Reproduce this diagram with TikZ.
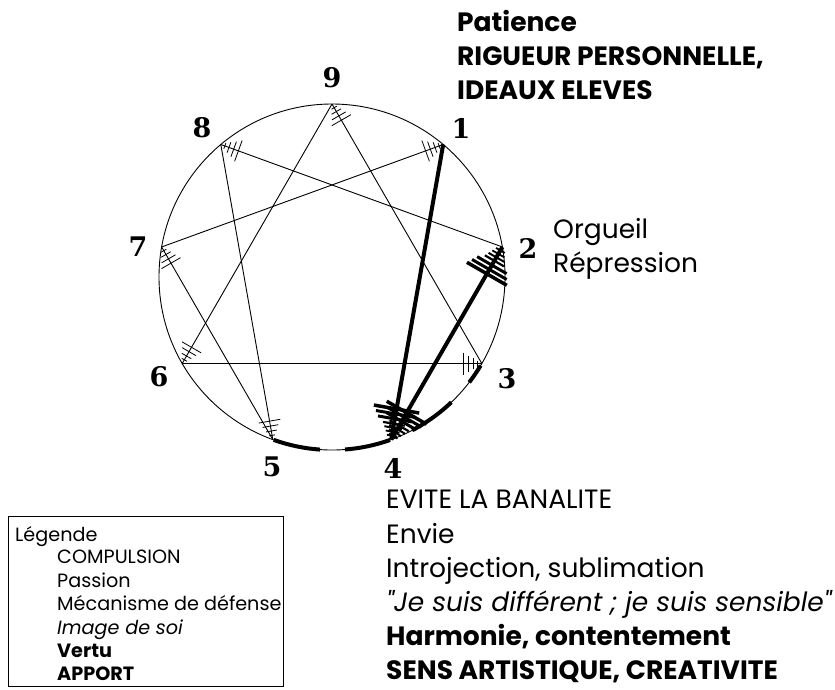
\documentclass[tikz,border=0pt]{standalone}
\usepackage{fontspec}
\setmainfont{Poppins}
\newfontfamily\numfont{DejaVu Serif}
\usetikzlibrary{calc}

\tikzset{
  thinline/.style={line width=0.9pt},
  thickline/.style={line width=4pt},
  arcpiece/.style={line width=4pt},
  numlabel/.style={inner sep=0pt, font=\numfont\bfseries\fontsize{27}{27}\selectfont},
  txt/.style={anchor=base west, inner sep=0pt, font=\fontsize{26.5}{26.5}\selectfont},
  legtxt/.style={anchor=base west, inner sep=0pt, font=\fontsize{19.2}{19.2}\selectfont}
}

% ticks at the end #2 of a line coming from #1
\newcommand{\thinticks}[2]{%
  \foreach \d/\h in {18.7/11,13.7/8,8.7/5.5,4.3/3} {
    \coordinate (tk) at ($(#2)!\d pt!(#1)$);
    \draw[line width=0.8pt] ($(tk)!\h pt!90:(#2)$) -- ($(tk)!\h pt!-90:(#2)$);
  }}
\newcommand{\thickticks}[2]{%
  \foreach \d/\h/\w in {31/23/3.5,26/20/3,21/17/3,16/11/2.2,12/9/2,8/7/1.8,4/5/1.8} {
    \coordinate (tk) at ($(#2)!\d pt!(#1)$);
    \draw[line width=\w pt] ($(tk)!\h pt!90:(#2)$) -- ($(tk)!\h pt!-90:(#2)$);
  }}

\begin{document}
\begin{tikzpicture}[x=1pt,y=-1pt]
  \useasboundingbox (0,0) rectangle (835,689);

  % centre and points of the circle
  \coordinate (c) at (332,277);
  \foreach \n/\a in {9/90,1/50,2/10,3/-30,4/-70,5/-110,6/-150,7/170,8/130}
    \coordinate (p\n) at ($(c)+(\a:173pt)$);

  % draw circle
  \draw[thinline] (c) circle[radius=173pt];

  % draw thick pieces of arc from 3 to 5
  \foreach \s/\e in {-30.8/-37.5,-46.4/-62.4,-70.4/-85.7,-94/-109.7}
    \draw[arcpiece] ($(c)+(\s:173pt)$) arc[start angle=\s, end angle=\e, radius=173pt];

  % draw thin lines
  \foreach \a/\b in {3/9,9/6,6/3,2/8,8/5,5/7,7/1} {
    \draw[thinline] (p\a) -- (p\b);
    \thinticks{p\a}{p\b}
  }

  % draw thick lines
  \draw[thickline] (p1) -- (p4);
  \draw[thickline] (p2) -- (p4);
  \thickticks{p1}{p4}
  \thickticks{p2}{p4}
  \thickticks{p4}{p2}

  % draw numbers
  \foreach \n/\x/\y in {9/332/78,1/461/128,2/528/248,3/507/379,4/393/468,5/272/467,6/159/377,7/138/247,8/202/128}
    \node[numlabel] (n\n) at (\x,\y) {\n};

  % texts for 1
  \node[txt] (pat) at (457,31) {\bfseries Patience};
  \node[txt] (rig) at (457,65) {\bfseries RIGUEUR PERSONNELLE,};
  \node[txt] (ide) at (457,99) {\bfseries IDEAUX ELEVES};

  % texts for 2
  \node[txt] (org) at (553,238) {Orgueil};
  \node[txt] (rep) at (553,272) {Répression};

  % texts for 4
  \node[txt] (evi) at (386,508) {EVITE LA BANALITE};
  \node[txt] (env) at (386,543) {Envie};
  \node[txt] (int) at (386,577) {Introjection, sublimation};
  \node[txt] (jes) at (386,611) {\itshape \textquotedbl Je suis différent ; je suis sensible\textquotedbl};
  \node[txt] (har) at (386,645) {\bfseries Harmonie, contentement};
  \node[txt] (sen) at (386,679) {\bfseries SENS ARTISTIQUE, CREATIVITE};

  % legend
  \node[draw, line width=0.9pt, anchor=north west, inner sep=0pt,
        minimum width=275pt, minimum height=170pt] (leg) at (8,516) {};
  \node[legtxt] (lg0) at (15,541) {Légende};
  \node[legtxt] (lg1) at (57,563) {COMPULSION};
  \node[legtxt] (lg2) at (57,587) {Passion};
  \node[legtxt] (lg3) at (57,610) {Mécanisme de défense};
  \node[legtxt] (lg4) at (57,634) {\itshape Image de soi};
  \node[legtxt] (lg5) at (57,657) {\bfseries Vertu};
  \node[legtxt] (lg6) at (57,680) {\bfseries APPORT};
\end{tikzpicture}
\end{document}
